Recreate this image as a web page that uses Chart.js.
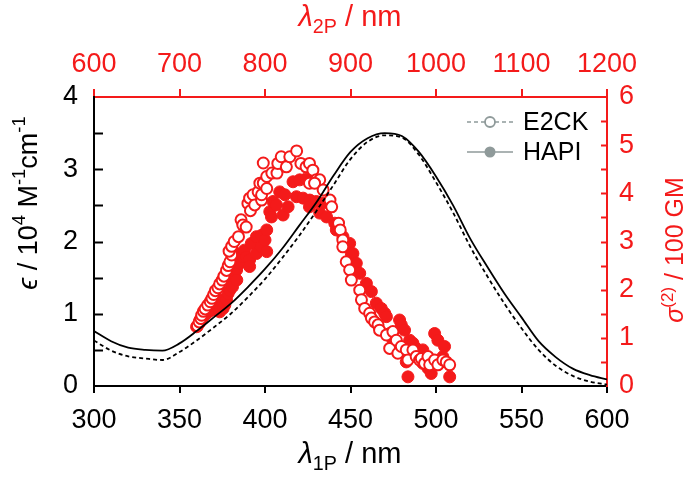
<!DOCTYPE html>
<html>
<head>
<meta charset="utf-8">
<script src="https://cdn.jsdelivr.net/npm/chart.js@4.4.1/dist/chart.umd.min.js"></script>
<style>
html, body { margin: 0; padding: 0; background: #fff; }
#wrap { width: 696px; height: 478px; }
</style>
</head>
<body>
<div id="wrap"><canvas id="chart" width="696" height="478"></canvas></div>
<script>
// one-photon absorption (left axis, 10^4 M-1 cm-1)
var absWl = [300, 310, 320, 330, 340, 350, 360, 370, 380, 390, 400, 410, 420, 430, 440, 450,
    460, 470, 480, 490, 500, 510, 520, 530, 540, 550, 560, 570, 580, 590, 600];
var absHapi = [0.76, 0.62, 0.53, 0.50, 0.49, 0.59, 0.76, 0.95, 1.14, 1.37, 1.62, 1.90, 2.22, 2.54, 2.91, 3.24,
    3.43, 3.50, 3.46, 3.24, 2.90, 2.50, 2.04, 1.65, 1.28, 0.95, 0.62, 0.40, 0.24, 0.15, 0.09];
var absE2ck = [0.63, 0.49, 0.41, 0.38, 0.36, 0.47, 0.63, 0.81, 1.00, 1.23, 1.48, 1.77, 2.08, 2.42, 2.78, 3.14,
    3.38, 3.47, 3.44, 3.20, 2.82, 2.40, 1.93, 1.52, 1.14, 0.80, 0.50, 0.28, 0.14, 0.06, 0.02];

// two-photon cross section (right axis, 100 GM), plotted against lambda_1P
var e2ckWl = [360.5, 361.5, 362.5, 363, 364, 365, 366.5, 368, 369, 370, 371, 372.5, 373.5, 375, 376, 377.5,
    378.5, 379.5, 380.5, 379, 380.5, 382, 384.5, 386, 387, 389, 390, 391, 391.5, 393, 394, 396, 397, 398, 398,
    399, 399, 401, 401, 404, 407, 407.5, 409.5, 412.5, 414.5, 418.5, 421, 424, 426, 428, 426, 430, 432, 429,
    434, 438, 439, 443, 444, 445.5, 445.5, 447.5, 449.5, 450.5, 455.4, 456.4, 458.3, 461.2, 462.2, 464.1, 466.1,
    467, 471, 474.8, 472.9, 476.8, 477.7, 479.7, 482.6, 483.6, 486.5, 488.4, 490.4, 491.4, 493.3, 495.3, 496.3,
    499.2, 501.1, 504, 506, 508];
var e2ckSigma = [1.25, 1.33, 1.40, 1.47, 1.55, 1.60, 1.68, 1.75, 1.82, 1.90, 1.98, 2.04, 2.12, 2.20, 2.28, 2.40,
    2.50, 2.58, 2.72, 2.80, 2.90, 3.00, 3.10, 3.45, 3.34, 3.30, 3.79, 3.90, 3.64, 3.97, 3.76, 4.03, 4.21, 3.86, 3.97,
    4.21, 4.63, 4.35, 4.10, 4.42, 4.42, 4.62, 4.76, 4.55, 4.76, 4.88, 4.62, 4.55, 4.62, 4.48, 4.21, 4.28, 4.28, 4.21,
    4.07, 3.86, 3.72, 3.38, 3.24, 3.03, 2.89, 2.58, 2.41, 2.20, 1.99, 1.79, 1.61, 1.51, 1.41, 1.33, 1.27,
    1.16, 1.06, 1.13, 0.78, 0.95, 0.68, 0.82, 0.75, 0.54, 0.75, 0.61, 0.54, 0.57, 0.47, 0.61, 0.44,
    0.54, 0.44, 0.54, 0.50, 0.44];
var hapiWl = [360, 361.5, 362, 363.5, 365, 366, 368, 369.5, 371, 373.5, 373.6, 375.5, 375, 376.5, 377.5, 378.4,
    379.4, 380.4, 381.4, 381, 383.4, 383.5, 385.3, 383.4, 387.2, 388, 389, 391, 391, 392, 395, 395, 398, 398, 400,
    401, 401, 402.8, 403.8, 404.7, 406.7, 408.6, 410.6, 411.6, 413.5, 416.4, 418.4, 420.3, 422.3, 424, 426.2, 426,
    430, 432, 434, 436, 440.8, 441.7, 445.6, 449.5, 450.5, 451.4, 453.4, 455.4, 459.3, 462.2, 465.1, 468, 470, 471,
    472.9, 474.8, 478.7, 479.7, 481.6, 482.6, 483.6, 484.6, 486.5, 488.4, 490.4, 492.3, 492.3, 494.3, 495.3, 497.2,
    499.2, 501.1, 502, 504, 505, 508];
var hapiSigma = [1.23, 1.30, 1.37, 1.42, 1.48, 1.51, 1.56, 1.65, 1.58, 1.54, 1.65, 1.61, 1.79, 1.68, 1.79, 1.92,
    1.99, 2.13, 2.27, 2.06, 2.41, 2.20, 2.55, 2.75, 2.68, 2.82, 2.68, 2.62, 2.48, 2.96, 3.10, 2.75, 3.13, 2.89, 3.03,
    2.79, 3.24, 3.62, 3.51, 3.83, 3.76, 4.03, 3.55, 3.97, 3.72, 4.24, 3.93, 4.28, 3.90, 4.30, 3.86, 3.72,
    3.83, 3.59, 3.80, 3.51, 3.38, 3.24, 3.10, 2.96, 2.75, 2.75, 2.55, 2.34, 2.13, 1.96, 1.72, 1.61, 1.51, 1.44,
    1.09, 0.95, 1.37, 1.27, 1.16, 0.50, 0.19, 0.95, 0.89, 0.78, 0.68, 0.75, 0.47, 0.54, 0.37, 0.26,
    1.09, 0.95, 0.47, 0.61, 0.82, 0.19];

var seriesNames = ["E2CK", "HAPI"];

var FONT = "'Liberation Sans', Arial, 'DejaVu Sans', sans-serif";
var RED = "#f41a1a";
var GRAY = "#8f9a9a";

function pts(xs, ys) {
    return xs.map(function (x, i) { return {x: x, y: ys[i]}; });
}

function plain(v) {
    return String(v);
}

// text with italic / sub / sup pieces, centred on (x, y)
function richText(ctx, parts, x, y, size, color, angle) {
    var i, w = 0, p, s;
    function setFont(p) {
        s = (p.sub || p.sup) ? size * 0.68 : size;
        ctx.font = (p.it ? "italic " : "") + s + "px " + FONT;
    }
    for (i = 0; i < parts.length; i++) {
        setFont(parts[i]);
        w += ctx.measureText(parts[i].t).width;
    }
    ctx.save();
    ctx.translate(x, y);
    ctx.rotate(angle || 0);
    ctx.fillStyle = color;
    ctx.textBaseline = "alphabetic";
    ctx.textAlign = "left";
    var cx = -w / 2;
    for (i = 0; i < parts.length; i++) {
        p = parts[i];
        setFont(p);
        var dy = size * 0.36;
        if (p.sub) { dy += size * 0.22; }
        if (p.sup) { dy -= size * 0.42; }
        ctx.fillText(p.t, cx, dy);
        cx += ctx.measureText(p.t).width;
    }
    ctx.restore();
}

var decor = {
    id: "decor",
    afterDraw: function (chart) {
        var ctx = chart.ctx, a = chart.chartArea, v, py;
        var y1 = chart.scales.y, y2 = chart.scales.y2;
        ctx.save();
        ctx.lineWidth = 2;
        // inward ticks on the left (black) and right (red) axes
        ctx.strokeStyle = "#000";
        for (v = 0.5; v < 4; v += 0.5) {
            py = Math.round(y1.getPixelForValue(v)) + 0.5;
            ctx.beginPath(); ctx.moveTo(a.left, py); ctx.lineTo(a.left + 9, py); ctx.stroke();
        }
        ctx.strokeStyle = RED;
        for (v = 0.5; v < 6; v += 0.5) {
            py = Math.round(y2.getPixelForValue(v)) + 0.5;
            ctx.beginPath(); ctx.moveTo(a.right, py); ctx.lineTo(a.right - 6, py); ctx.stroke();
        }
        ctx.restore();

        // axis titles
        richText(ctx, [{t: "\u03bb", it: true}, {t: "1P", sub: true}, {t: " / nm"}], 350, 453, 29, "#000");
        richText(ctx, [{t: "\u03bb", it: true}, {t: "2P", sub: true}, {t: " / nm"}], 350, 16, 29, RED);
        richText(ctx, [{t: "\u03f5", it: true}, {t: " / 10"}, {t: "4", sup: true}, {t: " M"}, {t: "-1", sup: true},
            {t: "cm"}, {t: "-1", sup: true}], 27, 203, 27, "#000", -Math.PI / 2);
        richText(ctx, [{t: "\u03c3", it: true}, {t: "(2)", sup: true}, {t: " / 100 GM"}], 674, 250, 25, RED,
            -Math.PI / 2);

        // legend
        ctx.save();
        ctx.strokeStyle = GRAY;
        ctx.fillStyle = GRAY;
        ctx.lineWidth = 1.6;
        ctx.setLineDash([4, 3]);
        ctx.beginPath(); ctx.moveTo(467, 122); ctx.lineTo(513, 122); ctx.stroke();
        ctx.setLineDash([]);
        ctx.beginPath(); ctx.moveTo(467, 152); ctx.lineTo(513, 152); ctx.stroke();
        ctx.beginPath(); ctx.arc(490, 122, 5, 0, 2 * Math.PI);
        ctx.fillStyle = "#fff"; ctx.fill(); ctx.lineWidth = 1.8; ctx.stroke();
        ctx.beginPath(); ctx.arc(490, 152, 5.5, 0, 2 * Math.PI);
        ctx.fillStyle = GRAY; ctx.fill();
        ctx.fillStyle = "#000";
        ctx.font = "25px " + FONT;
        ctx.textBaseline = "middle";
        ctx.fillText(seriesNames[0], 523, 123);
        ctx.fillText(seriesNames[1], 523, 153);
        ctx.restore();
    }
};

var tickFont = {size: 27, family: FONT};

new Chart(document.getElementById("chart").getContext("2d"), {
    type: "scatter",
    data: {
        datasets: [
            {
                type: "line", label: seriesNames[1] + " 1P", data: pts(absWl, absHapi),
                xAxisID: "x", yAxisID: "y", borderColor: "#000", borderWidth: 1.8,
                pointRadius: 0, cubicInterpolationMode: "monotone", fill: false
            },
            {
                type: "line", label: seriesNames[0] + " 1P", data: pts(absWl, absE2ck),
                xAxisID: "x", yAxisID: "y", borderColor: "#000", borderWidth: 1.8, borderDash: [4, 3],
                pointRadius: 0, cubicInterpolationMode: "monotone", fill: false
            },
            {
                label: seriesNames[0] + " 2P", data: pts(e2ckWl, e2ckSigma),
                xAxisID: "x", yAxisID: "y2", pointRadius: 5.5, pointBorderWidth: 2,
                pointBorderColor: RED, pointBackgroundColor: "#fff", showLine: false
            },
            {
                label: seriesNames[1] + " 2P", data: pts(hapiWl, hapiSigma),
                xAxisID: "x", yAxisID: "y2", pointRadius: 6, pointBorderWidth: 1,
                pointBorderColor: RED, pointBackgroundColor: RED, showLine: false
            }
        ]
    },
    options: {
        responsive: false,
        animation: false,
        events: [],
        layout: {padding: 0},
        plugins: {legend: {display: false}, tooltip: {enabled: false}},
        scales: {
            x: {
                type: "linear", position: "bottom", min: 300, max: 600,
                ticks: {stepSize: 50, color: "#000", font: tickFont, padding: 11, maxRotation: 0, callback: plain},
                grid: {drawOnChartArea: false, drawTicks: true, tickLength: 7, color: "#000", lineWidth: 2},
                border: {color: "#000", width: 2},
                afterFit: function (s) { s.height = 92; }
            },
            x2: {
                type: "linear", position: "top", min: 600, max: 1200,
                ticks: {stepSize: 100, color: RED, font: tickFont, padding: 8, maxRotation: 0, callback: plain},
                grid: {drawOnChartArea: false, drawTicks: true, tickLength: 8, color: RED, lineWidth: 2},
                border: {color: RED, width: 2},
                afterFit: function (s) { s.height = 97; }
            },
            y: {
                position: "left", min: 0, max: 4,
                ticks: {stepSize: 1, color: "#000", font: tickFont, padding: 16, callback: plain},
                grid: {display: false, drawTicks: false},
                border: {color: "#000", width: 2},
                afterFit: function (s) { s.width = 94; }
            },
            y2: {
                position: "right", min: 0, max: 6,
                ticks: {stepSize: 1, color: RED, font: tickFont, padding: 12, callback: plain},
                grid: {display: false, drawTicks: false},
                border: {color: RED, width: 2},
                afterFit: function (s) { s.width = 89; }
            }
        }
    },
    plugins: [decor]
});
</script>
</body>
</html>
